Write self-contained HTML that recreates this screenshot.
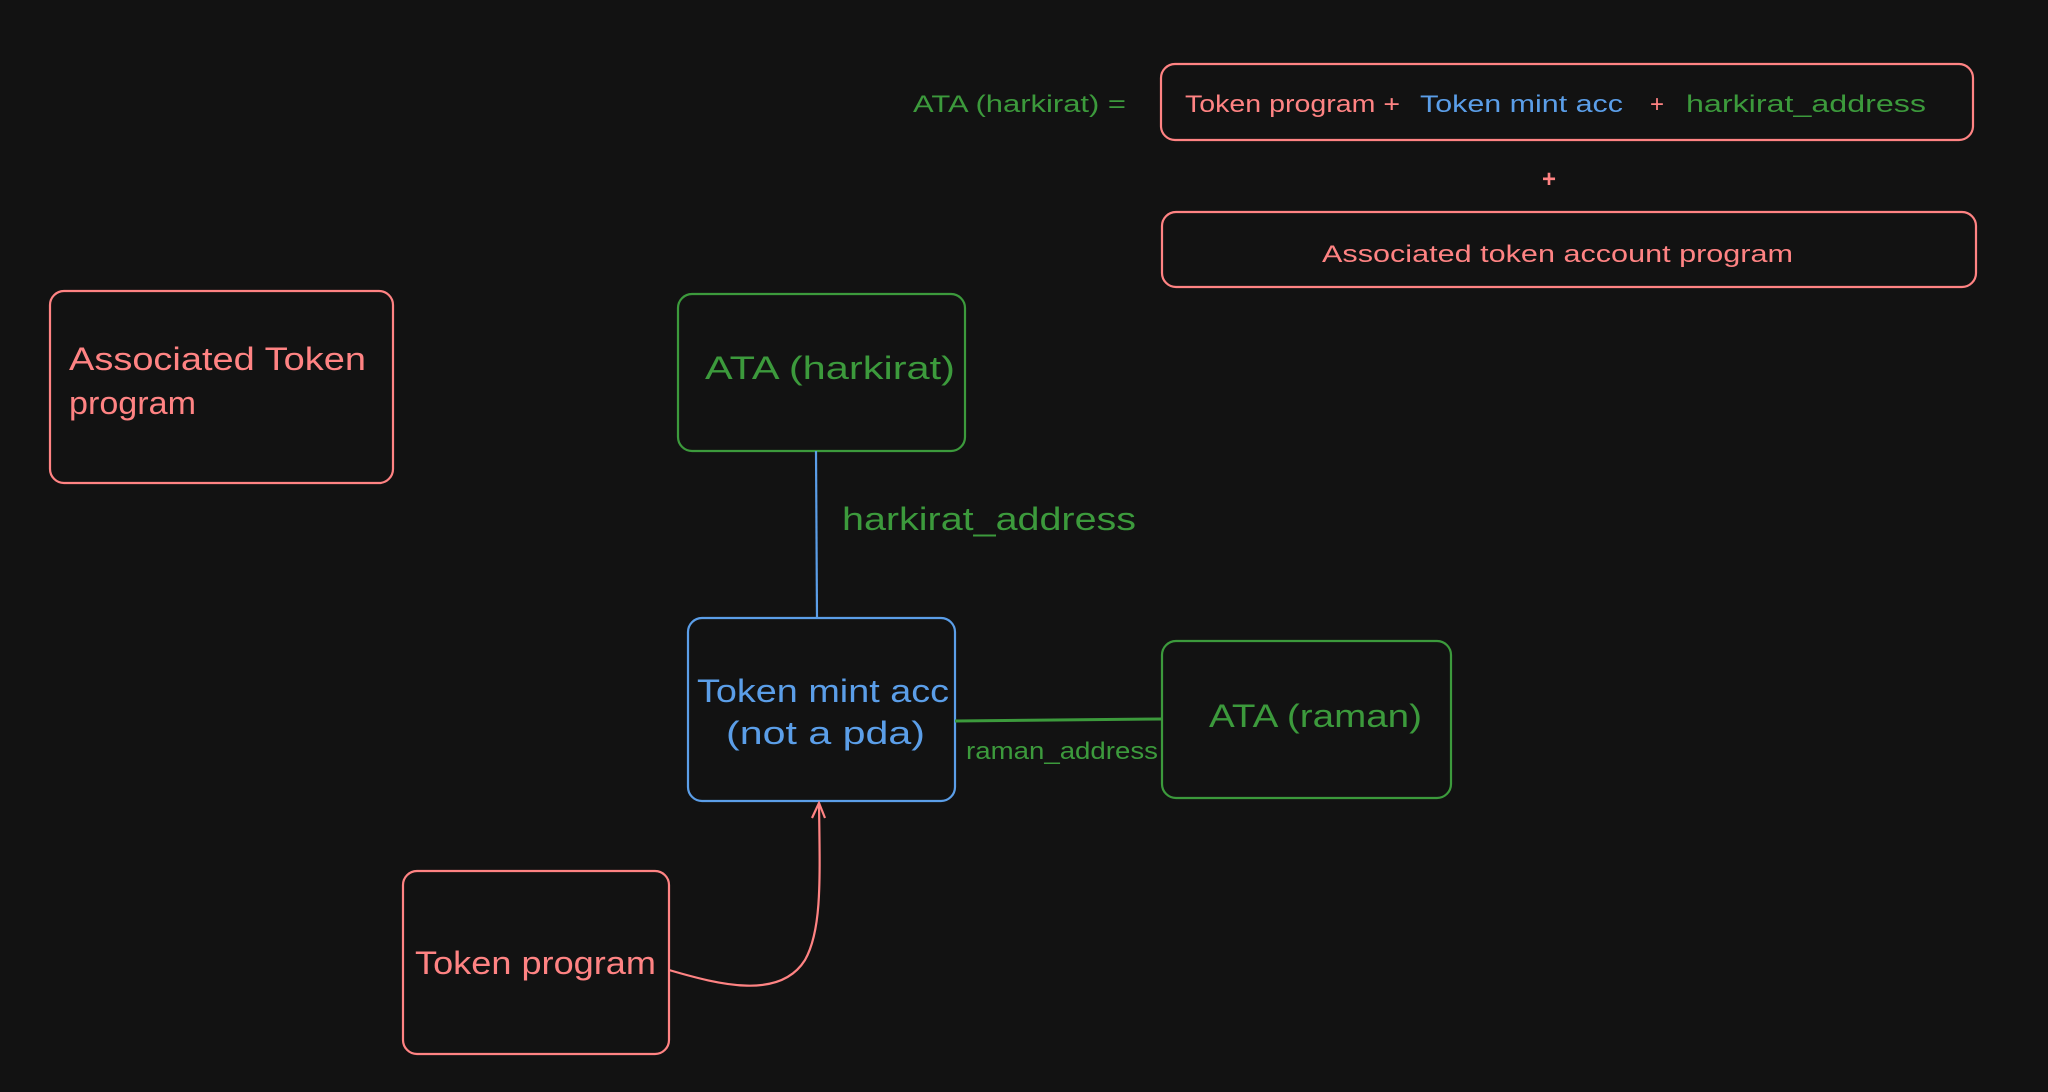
<!DOCTYPE html>
<html><head><meta charset="utf-8"><style>
html,body{margin:0;padding:0;background:#121212;}
svg{display:block;}
text{font-family:"Liberation Sans",sans-serif;}
</style></head><body>
<svg width="2048" height="1092" viewBox="0 0 2048 1092" xmlns="http://www.w3.org/2000/svg">
<rect width="2048" height="1092" fill="#121212"/>
<g fill="none" stroke-width="2.2">
<rect x="1161" y="64" width="812" height="76" rx="14" stroke="#ff8383"/>
<rect x="1162" y="212" width="814" height="75" rx="14" stroke="#ff8383"/>
<rect x="50" y="291" width="343" height="192" rx="14" stroke="#ff8383"/>
<rect x="678" y="294" width="287" height="157" rx="14" stroke="#3c9a3c"/>
<rect x="688" y="618" width="267" height="183" rx="14" stroke="#5b9ee8"/>
<rect x="1162" y="641" width="289" height="157" rx="14" stroke="#3c9a3c"/>
<rect x="403" y="871" width="266" height="183" rx="14" stroke="#ff8383"/>
<line x1="816" y1="451" x2="817" y2="618" stroke="#5b9ee8"/>
<line x1="955" y1="721" x2="1162" y2="719" stroke="#3c9a3c" stroke-width="3"/>
<path d="M669 970 C 720 985, 780 1000, 805 960 C 822 930, 820 880, 819 803" stroke="#ff8383"/>
<path d="M812 818 L819 803 L825 818" stroke="#ff8383"/>
</g>
<g font-size="24">
<text x="913" y="112" fill="#3c9a3c" textLength="213" lengthAdjust="spacingAndGlyphs">ATA (harkirat) =</text>
<text x="1185" y="112" fill="#ff8383" textLength="215" lengthAdjust="spacingAndGlyphs">Token program +</text>
<text x="1420" y="112" fill="#5b9ee8" textLength="203" lengthAdjust="spacingAndGlyphs">Token mint acc</text>
<text x="1650" y="112" fill="#ff8383">+</text>
<text x="1686" y="112" fill="#3c9a3c" textLength="240" lengthAdjust="spacingAndGlyphs">harkirat_address</text>
<text x="1542" y="187" fill="#ff8383" font-weight="bold">+</text>
<text x="1322" y="262" fill="#ff8383" textLength="471" lengthAdjust="spacingAndGlyphs">Associated token account program</text>
<text x="966" y="759" fill="#3c9a3c" textLength="192" lengthAdjust="spacingAndGlyphs">raman_address</text>
</g>
<g font-size="32">
<text x="69" y="370" fill="#ff8383" textLength="297" lengthAdjust="spacingAndGlyphs">Associated Token</text>
<text x="69" y="414" fill="#ff8383" textLength="127" lengthAdjust="spacingAndGlyphs">program</text>
<text x="705" y="379" fill="#3c9a3c" textLength="250" lengthAdjust="spacingAndGlyphs">ATA (harkirat)</text>
<text x="842" y="530" fill="#3c9a3c" textLength="294" lengthAdjust="spacingAndGlyphs">harkirat_address</text>
<text x="697" y="702" fill="#5b9ee8" textLength="252" lengthAdjust="spacingAndGlyphs">Token mint acc</text>
<text x="726" y="744" fill="#5b9ee8" textLength="199" lengthAdjust="spacingAndGlyphs">(not a pda)</text>
<text x="1209" y="727" fill="#3c9a3c" textLength="213" lengthAdjust="spacingAndGlyphs">ATA (raman)</text>
<text x="415" y="974" fill="#ff8383" textLength="241" lengthAdjust="spacingAndGlyphs">Token program</text>
</g>
</svg>
</body></html>
